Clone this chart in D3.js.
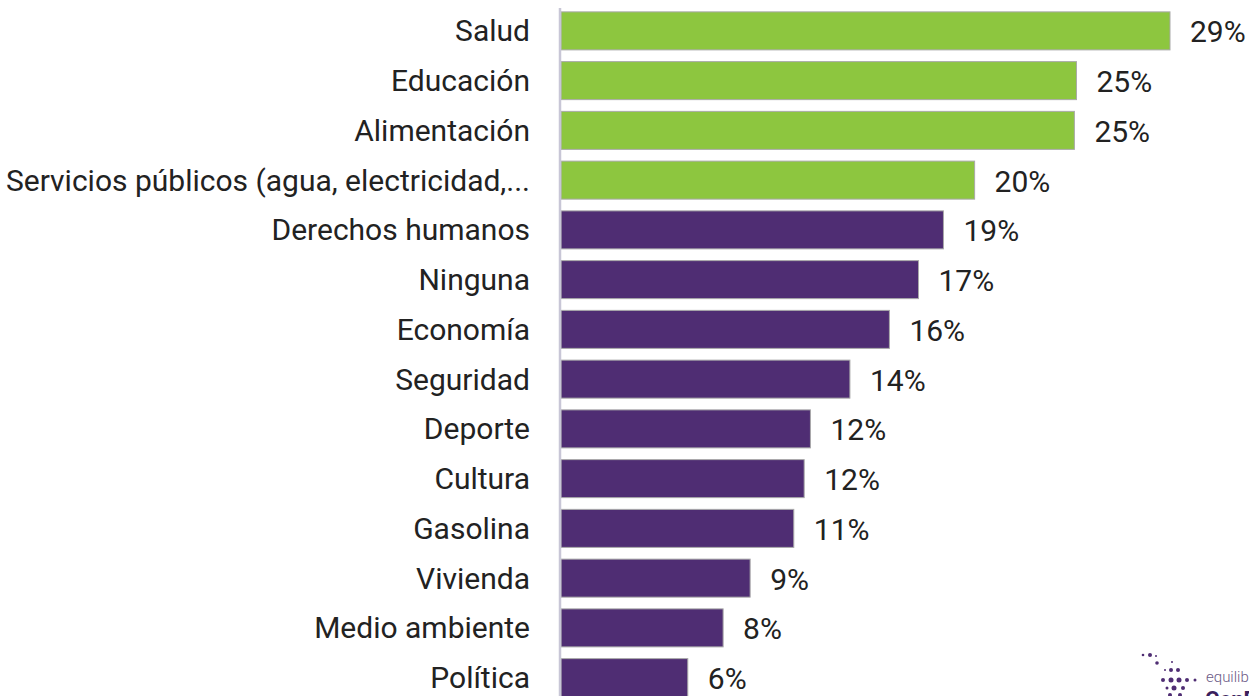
<!DOCTYPE html>
<html lang="en">
<head>
<meta charset="UTF-8">
<title>Temas</title>
<script src="https://cdn.jsdelivr.net/npm/d3@7"></script>
<style>
  html, body { margin: 0; padding: 0; background: #fff; overflow: hidden; }
  text { font-family: Roboto, "Noto Sans", sans-serif; }
</style>
</head>
<body>
<div id="container"></div>
<script>
// categories, values (%), shown labels and colour group
const categories = ["Salud", "Educación", "Alimentación", "Servicios públicos (agua, electricidad,...",
  "Derechos humanos", "Ninguna", "Economía", "Seguridad", "Deporte", "Cultura", "Gasolina",
  "Vivienda", "Medio ambiente", "Política"];
const values = [29.3, 24.8, 24.7, 19.9, 18.4, 17.2, 15.8, 13.9, 12.0, 11.7, 11.2, 9.1, 7.8, 6.1];
const labels = ["29%", "25%", "25%", "20%", "19%", "17%", "16%", "14%", "12%", "12%", "11%", "9%", "8%", "6%"];
const highlighted = ["Salud", "Educación", "Alimentación", "Servicios públicos (agua, electricidad,..."];

const width = 1249, height = 696;
const x0 = 561;

const svg = d3.select("#container").append("svg")
  .attr("width", width)
  .attr("height", height);

const x = d3.scaleLinear().domain([0, 29.3]).range([x0, 1170]);
const y = d3.scaleBand()
  .domain(categories)
  .range([6, 6 + 14 * 49.75])
  .paddingInner(0.236)
  .paddingOuter(0.118);

const data = categories.map((c, i) => ({ name: c, value: values[i], label: labels[i] }));

// bars
svg.append("g").selectAll("rect")
  .data(data)
  .join("rect")
  .attr("x", x(0))
  .attr("y", d => y(d.name))
  .attr("width", d => x(d.value) - x(0))
  .attr("height", y.bandwidth())
  .attr("fill", d => highlighted.includes(d.name) ? "#8dc63f" : "#4f2d73")
  .attr("stroke", "#a9a9a9")
  .attr("stroke-width", 1);

// axis line
svg.append("line")
  .attr("x1", x0 - 1).attr("x2", x0 - 1)
  .attr("y1", 8).attr("y2", height)
  .attr("stroke", "#c8c6d6")
  .attr("stroke-width", 2.5);

// category labels
svg.append("g").selectAll("text")
  .data(data)
  .join("text")
  .attr("x", 530)
  .attr("y", d => y(d.name) + y.bandwidth() / 2)
  .attr("dy", "0.35em")
  .attr("text-anchor", "end")
  .attr("font-size", 30)
  .attr("fill", "#222")
  .text(d => d.name);

// value labels
svg.append("g").selectAll("text")
  .data(data)
  .join("text")
  .attr("x", d => x(d.value) + 20)
  .attr("y", d => y(d.name) + y.bandwidth() / 2 + 1)
  .attr("dy", "0.35em")
  .attr("font-size", 30)
  .attr("fill", "#222")
  .text(d => d.label);

// logo corner (partly cut off, as in the source)
const logo = svg.append("g").attr("fill", "#4f2d73");
const dots = [[1143, 655, 1.3], [1150, 655, 2], [1156, 656, 1], [1157, 663, 1.8], [1172, 662, 1],
  [1165, 670, 1], [1171, 670, 2], [1178, 670, 2], [1163, 680, 2], [1171, 680, 2.5],
  [1179, 680, 2.5], [1187, 680, 2], [1195, 680, 1.5], [1167, 688, 1.5], [1174, 688, 2.5],
  [1183, 688, 2], [1170, 695, 2], [1180, 695, 2]];
dots.forEach(d => logo.append("circle").attr("cx", d[0]).attr("cy", d[1]).attr("r", d[2]));
svg.append("text").attr("x", 1206).attr("y", 682)
  .attr("font-size", 15).attr("font-weight", 300).attr("fill", "#6b5a86").text("equilibrium");
svg.append("text").attr("x", 1205).attr("y", 707)
  .attr("font-size", 22).attr("font-weight", 700).attr("fill", "#3b1f5e").text("CenDE");
</script>
</body>
</html>
